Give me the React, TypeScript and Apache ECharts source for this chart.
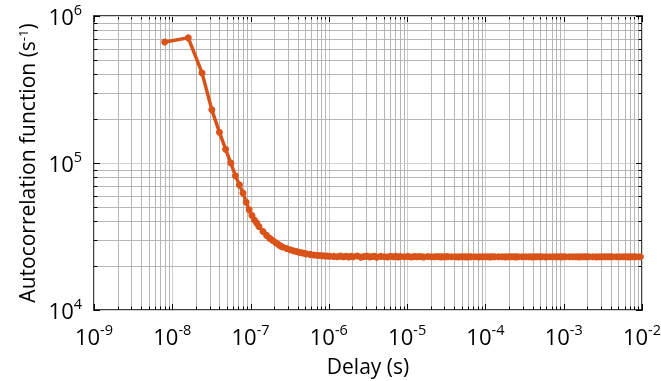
import React, { useEffect, useRef } from "react";
import * as echarts from "echarts";

// Delay channels (in units of the 8 ns base channel width)
const lagChannels = [
  1, 2, 3, 4, 5, 6, 7, 8, 9, 10, 11, 12, 13, 14, 15, 16,
  18, 20, 22, 24, 26, 28, 30, 32,
  36, 40, 44, 48, 52, 56, 60, 64,
  72, 80, 88, 96, 104, 112, 120, 128,
  144, 160, 176, 192, 208, 224, 240, 256,
  288, 320, 352, 384, 416, 448, 480, 512,
  576, 640, 704, 768, 832, 896, 960, 1024,
  1152, 1280, 1408, 1536, 1664, 1792, 1920, 2048,
  2304, 2560, 2816, 3072, 3328, 3584, 3840, 4096,
  4608, 5120, 5632, 6144, 6656, 7168, 7680, 8192,
  9216, 10240, 11264, 12288, 13312, 14336, 15360, 16384,
  18432, 20480, 22528, 24576, 26624, 28672, 30720, 32768,
  36864, 40960, 45056, 49152, 53248, 57344, 61440, 65536,
  73728, 81920, 90112, 98304, 106496, 114688, 122880, 131072,
  147456, 163840, 180224, 196608, 212992, 229376, 245760, 262144,
  294912, 327680, 360448, 393216, 425984, 458752, 491520, 524288,
  589824, 655360, 720896, 786432, 851968, 917504, 983040, 1048576,
  1179648, 1310720,
];
const channelWidth = 8e-9; // seconds

// Autocorrelation values (s^-1)
const acfValues = [
  665000, 710000, 410000, 230000, 162000, 124000, 100000, 82000,
  71000, 62500, 54000, 48000, 44000, 41000, 39000, 37000,
  34200, 32200, 30700, 29700, 28800, 28000, 27300, 26800,
  26200, 25700, 25300, 25000, 24700, 24500, 24300, 24100,
  23900, 23700, 23600, 23500, 23400, 23300, 23300, 23200,
  23150, 23050, 23250, 23000, 23200, 22950, 23150, 23050,
  23300, 22900, 23100, 23250, 22950, 23100, 23200, 22900,
  23150, 23050, 22950, 23200, 23000, 23150, 22950, 23100,
  23050, 23150, 22950, 23100, 23000, 23100, 23050, 22950,
  23100, 23000, 23050, 23100, 22980, 23050, 23020, 23080,
  23000, 23040, 22990, 23030, 23010, 22980, 23030, 23000,
  23020, 22990, 23010, 23000, 23020, 22990, 23000, 23010,
  23000, 23010, 22990, 23000, 23010, 23000, 22990, 23000,
  23010, 23000, 23000, 22990, 23000, 23010, 23000, 23000,
  22990, 23000, 23010, 23000, 23000, 22990, 23000, 23000,
  23000, 23010, 23000, 22990, 23000, 23000, 23010, 23000,
  23000, 22990, 23000, 23000, 23010, 23000, 23000, 23000,
  23000, 23000, 23010, 23000, 22990, 23000, 23000, 23000,
  23000, 23000,
];

const xTickExponents = [-9, -8, -7, -6, -5, -4, -3, -2];
const yTickExponents = [4, 5, 6];
const minorMultipliers = [2, 3, 4, 5, 6, 7, 8, 9];

const FONT = "'Open Sans', 'Noto Sans', sans-serif";
const LINE_COLOR = "#D95319";
const GRID_MAJOR = "#d0d0d0";
const GRID_MINOR = "#b6b6b6";

export default function App() {
  const ref = useRef<HTMLDivElement>(null);

  useEffect(() => {
    const chart = echarts.init(ref.current!, null, { renderer: "svg" });

    const data = lagChannels.map((c, i) => [c * channelWidth, acfValues[i]]);

    const xGrid: number[][] = [];
    xTickExponents.forEach((e, k) => {
      xGrid.push([Math.pow(10, e), 1e5, 1]);
      if (k < xTickExponents.length - 1) {
        minorMultipliers.forEach((m) => xGrid.push([m * Math.pow(10, e), 1e5, 0]));
      }
    });
    const yGrid: number[][] = [];
    yTickExponents.forEach((e, k) => {
      yGrid.push([1e-5, Math.pow(10, e), 1]);
      if (k < yTickExponents.length - 1) {
        minorMultipliers.forEach((m) => yGrid.push([1e-5, m * Math.pow(10, e), 0]));
      }
    });

    const fmt = (v: number) => {
      const e = Math.round(Math.log10(v));
      return `{b|10}{s|${e}}`;
    };
    const rich = {
      b: { fontSize: 22, fontFamily: FONT, color: "#000", lineHeight: 28 },
      s: { fontSize: 14.5, fontFamily: FONT, color: "#000", lineHeight: 17, verticalAlign: "top" },
    };

    const axisLine = { show: true, lineStyle: { color: "#000", width: 1.5 } };

    chart.setOption({
      animation: false,
      grid: { left: 94, right: 19, top: 16, bottom: 71, containLabel: false, outerBoundsMode: "none" },
      xAxis: [
        {
          type: "log",
          logBase: 10,
          min: 1e-9,
          max: 1e-2,
          interval: 1,
          position: "bottom",
          axisLine,
          axisTick: { show: false },
          splitLine: { show: false },
          axisLabel: { margin: 12, formatter: fmt, rich },
          name: "Delay (s)",
          nameLocation: "middle",
          nameGap: 45,
          nameTextStyle: { fontSize: 21, fontFamily: FONT, color: "#000" },
        },
        {
          type: "log",
          logBase: 10,
          min: 1e-9,
          max: 1e-2,
          interval: 1,
          position: "top",
          axisLine,
          axisTick: { show: false },
          splitLine: { show: false },
          axisLabel: { show: false },
        },
      ],
      yAxis: [
        {
          type: "log",
          logBase: 10,
          min: 1e4,
          max: 1e6,
          interval: 1,
          position: "left",
          axisLine,
          axisTick: { show: false },
          splitLine: { show: false },
          axisLabel: { margin: 12, formatter: fmt, rich },
          name: "Autocorrelation function (s{s|-1})",
          nameLocation: "middle",
          nameGap: 54,
          nameTextStyle: {
            fontSize: 21,
            fontFamily: FONT,
            color: "#000",
            rich: {
              s: { fontSize: 13, fontFamily: FONT, color: "#000", lineHeight: 15, verticalAlign: "top" },
            },
          },
        },
        {
          type: "log",
          logBase: 10,
          min: 1e4,
          max: 1e6,
          interval: 1,
          position: "right",
          axisLine,
          axisTick: { show: false },
          splitLine: { show: false },
          axisLabel: { show: false },
        },
      ],
      series: [
        {
          type: "custom",
          xAxisIndex: 0,
          yAxisIndex: 0,
          z: 1,
          silent: true,
          data: xGrid,
          renderItem: (params: any, api: any) => {
            const v = api.value(0);
            const major = api.value(2) === 1;
            const cs = params.coordSys;
            const p = api.coord([v, 1e5]);
            const x = Math.round(p[0]) + 0.5;
            const top = cs.y;
            const bot = cs.y + cs.height;
            const t = major ? 6 : 3.5;
            return {
              type: "group",
              children: [
                { type: "line", shape: { x1: x, y1: top, x2: x, y2: bot }, style: { stroke: major ? GRID_MAJOR : GRID_MINOR, lineWidth: 1 } },
                { type: "line", shape: { x1: x, y1: bot, x2: x, y2: bot - t }, style: { stroke: "#000", lineWidth: 1 } },
                { type: "line", shape: { x1: x, y1: top, x2: x, y2: top + t }, style: { stroke: "#000", lineWidth: 1 } },
              ],
            };
          },
        },
        {
          type: "custom",
          xAxisIndex: 0,
          yAxisIndex: 0,
          z: 1,
          silent: true,
          data: yGrid,
          renderItem: (params: any, api: any) => {
            const v = api.value(1);
            const major = api.value(2) === 1;
            const cs = params.coordSys;
            const p = api.coord([1e-5, v]);
            const y = Math.round(p[1]) + 0.5;
            const left = cs.x;
            const right = cs.x + cs.width;
            const t = major ? 6 : 3.5;
            return {
              type: "group",
              children: [
                { type: "line", shape: { x1: left, y1: y, x2: right, y2: y }, style: { stroke: major ? GRID_MAJOR : GRID_MINOR, lineWidth: 1 } },
                { type: "line", shape: { x1: left, y1: y, x2: left + t, y2: y }, style: { stroke: "#000", lineWidth: 1 } },
                { type: "line", shape: { x1: right, y1: y, x2: right - t, y2: y }, style: { stroke: "#000", lineWidth: 1 } },
              ],
            };
          },
        },
        {
          type: "line",
          xAxisIndex: 0,
          yAxisIndex: 0,
          z: 5,
          data,
          clip: true,
          symbol: "circle",
          symbolSize: 7,
          showAllSymbol: true,
          itemStyle: { color: LINE_COLOR },
          lineStyle: { color: LINE_COLOR, width: 3.5 },
        },
      ],
    });

    return () => chart.dispose();
  }, []);

  return <div ref={ref} style={{ position: "fixed", left: 0, top: 0, width: 661, height: 381 }} />;
}
